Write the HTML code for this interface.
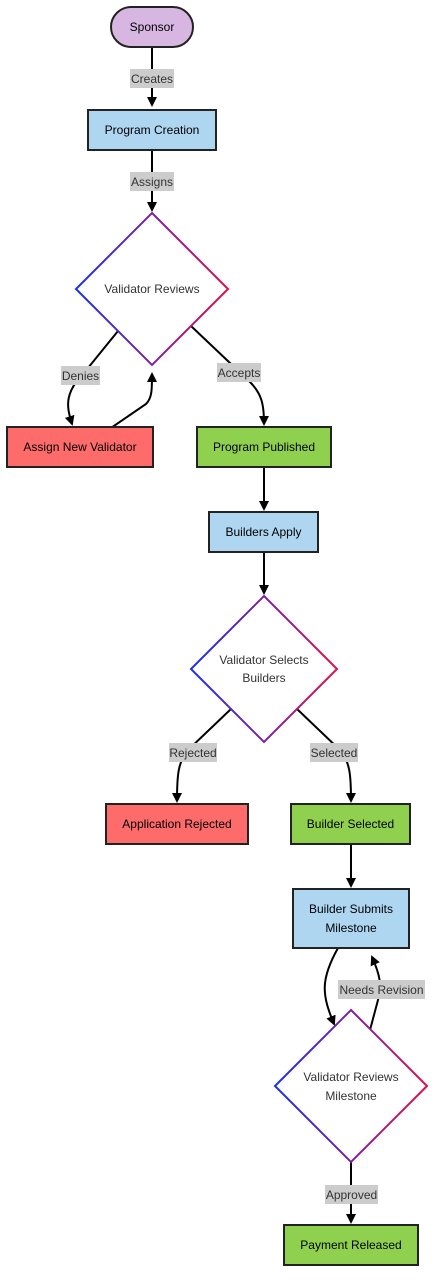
<!DOCTYPE html>
<html><head><meta charset="utf-8"><style>
body{margin:0;background:#fff;}
svg text{font-family:"Liberation Sans",Arial,sans-serif;}
</style></head><body>
<svg width="437" height="1280" viewBox="0 0 437 1280" xmlns="http://www.w3.org/2000/svg">
<defs>
<linearGradient id="g" x1="0" y1="0" x2="1" y2="0">
<stop offset="0" stop-color="#1a2ff0"/><stop offset="0.5" stop-color="#7a22a0"/><stop offset="1" stop-color="#e0104a"/>
</linearGradient>
<marker id="a" markerWidth="10" markerHeight="10" refX="8" refY="5" orient="auto" markerUnits="userSpaceOnUse">
<path d="M0,0 L10,5 L0,10 z" fill="#000"/></marker>
</defs>
<g fill="none" stroke="#000" stroke-width="2">
<path d="M152,47 V105" marker-end="url(#a)"/>
<path d="M152,150 V210" marker-end="url(#a)"/>
<path d="M118,331 L88,368 C64,392 66,405 72,424" marker-end="url(#a)"/>
<path d="M108,430 L146,404 C152,398 152,390 152,374" marker-end="url(#a)"/>
<path d="M191,326 L250,382 C262,394 264,405 264,424" marker-end="url(#a)"/>
<path d="M264,467 V509" marker-end="url(#a)"/>
<path d="M264,552 V593" marker-end="url(#a)"/>
<path d="M231,709 L188,750 C178,762 177,775 177,801" marker-end="url(#a)"/>
<path d="M297,709 L340,750 C350,762 351,775 351,801" marker-end="url(#a)"/>
<path d="M351,844 V886" marker-end="url(#a)"/>
<path d="M338,948 C320,980 322,995 334,1024" marker-end="url(#a)"/>
<path d="M370,1030 L378,1000 C382,985 380,975 372,957" marker-end="url(#a)"/>
<path d="M351,1162 V1222" marker-end="url(#a)"/>
</g>
<g stroke="#222" stroke-width="2">
<rect x="111" y="7" width="82" height="40" rx="20" fill="#d7b7e2"/>
<rect x="88" y="110" width="128" height="40" fill="#aed6f1"/>
<rect x="7" y="427" width="146" height="40" fill="#fe6b6b"/>
<rect x="197" y="427" width="134" height="40" fill="#8fd14f"/>
<rect x="209" y="512" width="109" height="40" fill="#aed6f1"/>
<rect x="106" y="804" width="142" height="40" fill="#fe6b6b"/>
<rect x="291" y="804" width="119" height="40" fill="#8fd14f"/>
<rect x="293" y="889" width="116" height="59" fill="#aed6f1"/>
<rect x="284" y="1225" width="134" height="40" fill="#8fd14f"/>
</g>
<g fill="#fff" stroke="url(#g)" stroke-width="2">
<path d="M152,213 L228,289 L152,365 L76,289 Z"/>
<path d="M264,596 L337,669 L264,742 L191,669 Z"/>
<path d="M351,1010 L427,1086 L351,1162 L275,1086 Z"/>
</g>
<g fill="#ccc">
<rect x="130" y="69" width="44" height="19"/>
<rect x="130" y="172" width="44" height="19"/>
<rect x="61" y="366" width="39" height="19"/>
<rect x="217" y="363" width="44" height="19"/>
<rect x="169" y="743" width="48" height="19"/>
<rect x="310" y="743" width="48" height="19"/>
<rect x="338" y="980" width="87" height="19"/>
<rect x="325" y="1185" width="53" height="19"/>
</g>
<g font-size="12" text-anchor="middle" fill="#333">
<text x="152" y="83">Creates</text>
<text x="152" y="186">Assigns</text>
<text x="80.5" y="380">Denies</text>
<text x="239" y="377">Accepts</text>
<text x="193" y="757">Rejected</text>
<text x="334" y="757">Selected</text>
<text x="381.5" y="994">Needs Revision</text>
<text x="351.5" y="1199">Approved</text>
<text x="152" y="293">Validator Reviews</text>
<text x="264" y="664">Validator Selects</text>
<text x="264" y="682">Builders</text>
<text x="351" y="1081">Validator Reviews</text>
<text x="351" y="1100">Milestone</text>
</g>
<g font-size="12" text-anchor="middle" fill="#000">
<text x="152" y="31">Sponsor</text>
<text x="152" y="134">Program Creation</text>
<text x="80" y="451">Assign New Validator</text>
<text x="264" y="451">Program Published</text>
<text x="263.5" y="536">Builders Apply</text>
<text x="177" y="828">Application Rejected</text>
<text x="350.5" y="828">Builder Selected</text>
<text x="351" y="913">Builder Submits</text>
<text x="351" y="932">Milestone</text>
<text x="351" y="1249">Payment Released</text>
</g>
</svg>
</body></html>
